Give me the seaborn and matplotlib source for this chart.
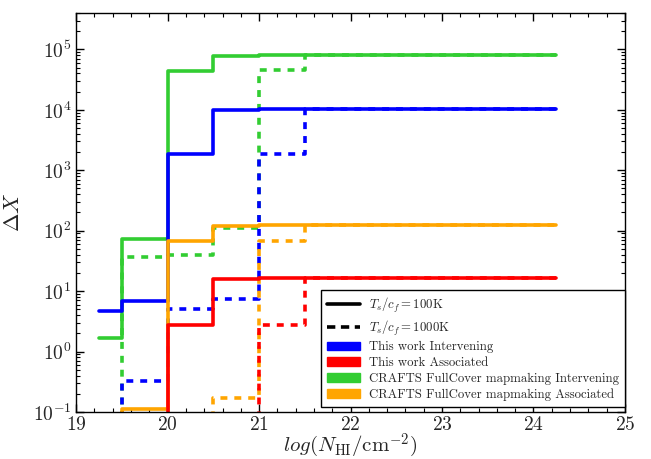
import matplotlib
matplotlib.use("Agg")
import matplotlib.pyplot as plt
from matplotlib.lines import Line2D
from matplotlib.patches import Patch
from matplotlib.ticker import MultipleLocator, LogLocator
import seaborn as sns

sns.set_style("ticks")
plt.rcParams.update({
    "font.family": "serif",
    "font.serif": ["cmr10", "DejaVu Serif"],
    "mathtext.fontset": "cm",
    "axes.formatter.use_mathtext": True,
    "lines.scale_dashes": False,
})

# Bin centres in log N_HI (steps drawn between neighbouring centres)
log_nhi = [19.25, 19.75, 20.25, 20.75, 21.25, 21.75, 22.25, 22.75, 23.25, 23.75, 24.25]

# Values below the axis floor are stored as 0.01
this_inter_100 = [4.7, 6.9, 1840, 10000, 10400, 10400, 10400, 10400, 10400, 10400, 10400]
this_inter_1000 = [0.01, 0.33, 5.1, 7.4, 1850, 10400, 10400, 10400, 10400, 10400, 10400]
this_assoc_100 = [0.01, 0.01, 2.8, 15.6, 16.6, 16.6, 16.6, 16.6, 16.6, 16.6, 16.6]
this_assoc_1000 = [0.01, 0.01, 0.01, 0.01, 2.8, 16.6, 16.6, 16.6, 16.6, 16.6, 16.6]
crafts_inter_100 = [1.69, 72, 44400, 78500, 79500, 79500, 79500, 79500, 79500, 79500, 79500]
crafts_inter_1000 = [0.01, 36.5, 39, 110, 44900, 79500, 79500, 79500, 79500, 79500, 79500]
crafts_assoc_100 = [0.01, 0.11, 67.3, 119, 122, 122, 122, 122, 122, 122, 122]
crafts_assoc_1000 = [0.01, 0.01, 0.01, 0.17, 67, 122, 122, 122, 122, 122, 122]

series_labels = ["This work Intervening", "This work Associated",
                 "CRAFTS FullCover mapmaking Intervening",
                 "CRAFTS FullCover mapmaking Associated"]
series_colors = ["#0000ff", "#ff0000", "#32cd32", "#ffa500"]

fig = plt.figure(figsize=(6.51, 4.59), dpi=100)
ax = fig.add_axes([0.117, 0.1024, 0.843, 0.8693])

dash = (0, (5, 5))
lw = 2.6
# drawing order: green, blue, orange, red (later ones on top)
curves = [
    (crafts_inter_100, crafts_inter_1000, series_colors[2]),
    (this_inter_100, this_inter_1000, series_colors[0]),
    (crafts_assoc_100, crafts_assoc_1000, series_colors[3]),
    (this_assoc_100, this_assoc_1000, series_colors[1]),
]
for solid_vals, dashed_vals, col in curves:
    sns.lineplot(x=log_nhi, y=solid_vals, color=col, lw=lw, drawstyle="steps-mid",
                 ax=ax, legend=False, errorbar=None)
    sns.lineplot(x=log_nhi, y=dashed_vals, color=col, lw=lw, linestyle=dash,
                 drawstyle="steps-mid", ax=ax, legend=False, errorbar=None)

ax.set_yscale("log")
ax.set_xlim(19, 25)
ax.set_ylim(0.1, 4e5)
ax.xaxis.set_major_locator(MultipleLocator(1))
ax.xaxis.set_minor_locator(MultipleLocator(0.2))
ax.yaxis.set_major_locator(LogLocator(base=10, numticks=12))
ax.yaxis.set_minor_locator(LogLocator(base=10, subs=range(2, 10), numticks=12))
ax.tick_params(which="both", direction="in", top=True, right=True, color="black")
ax.tick_params(which="major", length=6, width=1, labelsize=14)
ax.tick_params(axis="x", which="major", pad=3)
ax.tick_params(which="minor", length=3, width=0.8)
for s in ax.spines.values():
    s.set_color("black")
    s.set_linewidth(1.0)

ax.set_xlabel(r"$log(N_{\rm HI}/{\rm cm}^{-2})$", fontsize=15, labelpad=-1.5)
ax.set_ylabel(r"$\Delta X$", fontsize=16, labelpad=7)

handles = [
    Line2D([], [], color="black", lw=lw, label=r"$T_s/c_f=100{\rm K}$"),
    Line2D([], [], color="black", lw=lw, linestyle=(0, (6, 4)), label=r"$T_s/c_f=1000{\rm K}$"),
]
handles += [Patch(facecolor=c, edgecolor=c, label=l) for c, l in zip(series_colors, series_labels)]
leg = ax.legend(handles=handles, loc="lower right", bbox_to_anchor=(1.0, 0.013),
                borderaxespad=0, fontsize=9.2, frameon=True, fancybox=False,
                handlelength=2.6, handletextpad=0.7, labelspacing=0.28, borderpad=0.45)
leg.get_frame().set_edgecolor("black")
leg.get_frame().set_linewidth(1.0)
leg.get_frame().set_alpha(1)

fig.savefig("out.png", dpi=100)
